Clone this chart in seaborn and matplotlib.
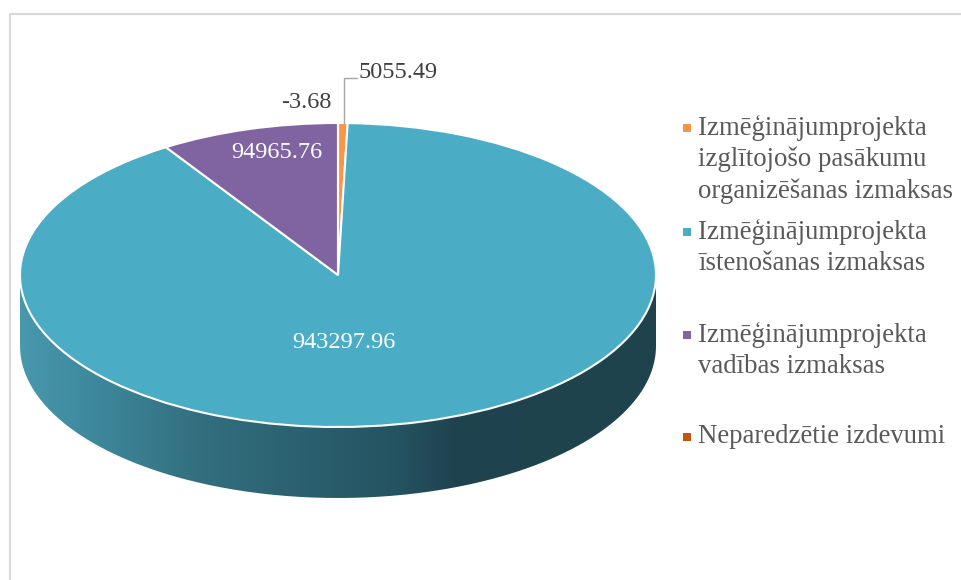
import numpy as np
import matplotlib
matplotlib.use("Agg")
import matplotlib.pyplot as plt
import seaborn as sns
from matplotlib.colors import LinearSegmentedColormap
from matplotlib.path import Path
from matplotlib.patches import PathPatch, Rectangle

CATEGORIES = [
    "Izmēģinājumprojekta\nizglītojošo pasākumu\norganizēšanas izmaksas",
    "Izmēģinājumprojekta\nīstenošanas izmaksas",
    "Izmēģinājumprojekta\nvadības izmaksas",
    "Neparedzētie izdevumi",
]
VALUES = [5055.49, 943297.96, 94965.76, -3.68]
COLORS = ["#f79646", "#4bacc6", "#8064a2", "#c0580f"]

W, H  = 962, 580
CX, CY = 338, 275      # top face centre (px)
RX, RY = 318, 152      # ellipse radii (px)
DEPTH  = 71            # thickness of the disc (px)
K      = RX / RY       # vertical squash factor


def py(y):
    # pixel row -> data y
    return (H - y) * K


sns.set_theme(style="white")
plt.rcParams["font.family"] = ["Liberation Serif", "DejaVu Serif"]

fig = plt.figure(figsize=(W / 100, H / 100), dpi=100)
ax = fig.add_axes([0, 0, 1, 1])

# Side of the 3D disc, gradient clipped to the band between two ellipses
t = np.linspace(np.pi, 2 * np.pi, 300)
top_y, bot_y = py(CY), py(CY + DEPTH)
xs = np.concatenate([CX + RX * np.cos(t), (CX + RX * np.cos(t))[::-1]])
ys = np.concatenate([bot_y + RX * np.sin(t), (top_y + RX * np.sin(t))[::-1]])
side = PathPatch(Path(np.column_stack([xs, ys])), facecolor="none",
                 edgecolor="none")
ax.add_patch(side)
side_cmap = LinearSegmentedColormap.from_list("side", [
    (0.00, "#4898ae"), (0.13, "#3d8699"), (0.28, "#336f7f"),
    (0.44, "#2b6170"), (0.60, "#245260"), (0.68, "#1f444f"),
    (1.00, "#1f434c")])
grad = np.linspace(0, 1, 512)[None, :]
im = ax.imshow(grad, cmap=side_cmap, aspect="auto", zorder=1,
               extent=[CX - RX, CX + RX, bot_y - RX, top_y])
im.set_clip_path(side)

# Top face
wedges, _ = ax.pie(np.clip(VALUES, 0, None), colors=COLORS, startangle=90,
                   counterclock=False, center=(CX, top_y), radius=RX,
                   frame=True,
                   wedgeprops=dict(edgecolor="white", linewidth=1.5))
for w in wedges:
    w.set_zorder(2)

ax.set_aspect("auto")
ax.set_xlim(0, W)
ax.set_ylim(0, H * K)
ax.axis("off")

# Data labels
fmt = lambda v: f"{v:.2f}"
lab_size = 17.5
ax.text(277, py(153), fmt(VALUES[2]), color="white", fontsize=lab_size,
        ha="center", va="center", zorder=3)
ax.text(344, py(342), fmt(VALUES[1]), color="white", fontsize=lab_size,
        ha="center", va="center", zorder=3)
ax.text(306, py(103), fmt(VALUES[3]), color="#404040", fontsize=lab_size,
        ha="center", va="center", zorder=3)
ax.text(359, py(72), fmt(VALUES[0]), color="#404040", fontsize=lab_size,
        ha="left", va="center", zorder=3)
ax.plot([344, 344, 357], [py(123), py(78), py(78)], color="#a6a6a6",
        lw=1, zorder=3)

# Legend
legend_rows = [128, 232, 335, 437]
for lab, col, yc in zip(CATEGORIES, COLORS, legend_rows):
    ax.add_patch(Rectangle((683, py(yc + 4)), 8, 8 * K, facecolor=col,
                           edgecolor="none", zorder=3))
    ax.text(698, py(yc - 13), lab, color="#595959", fontsize=19.3,
            ha="left", va="top", linespacing=1.31, zorder=3)

# Chart frame
ax.plot([10, 10, W], [py(H), py(14), py(14)], color="#d9d9d9", lw=1.5,
        clip_on=False)

fig.savefig("out.png", dpi=100)
